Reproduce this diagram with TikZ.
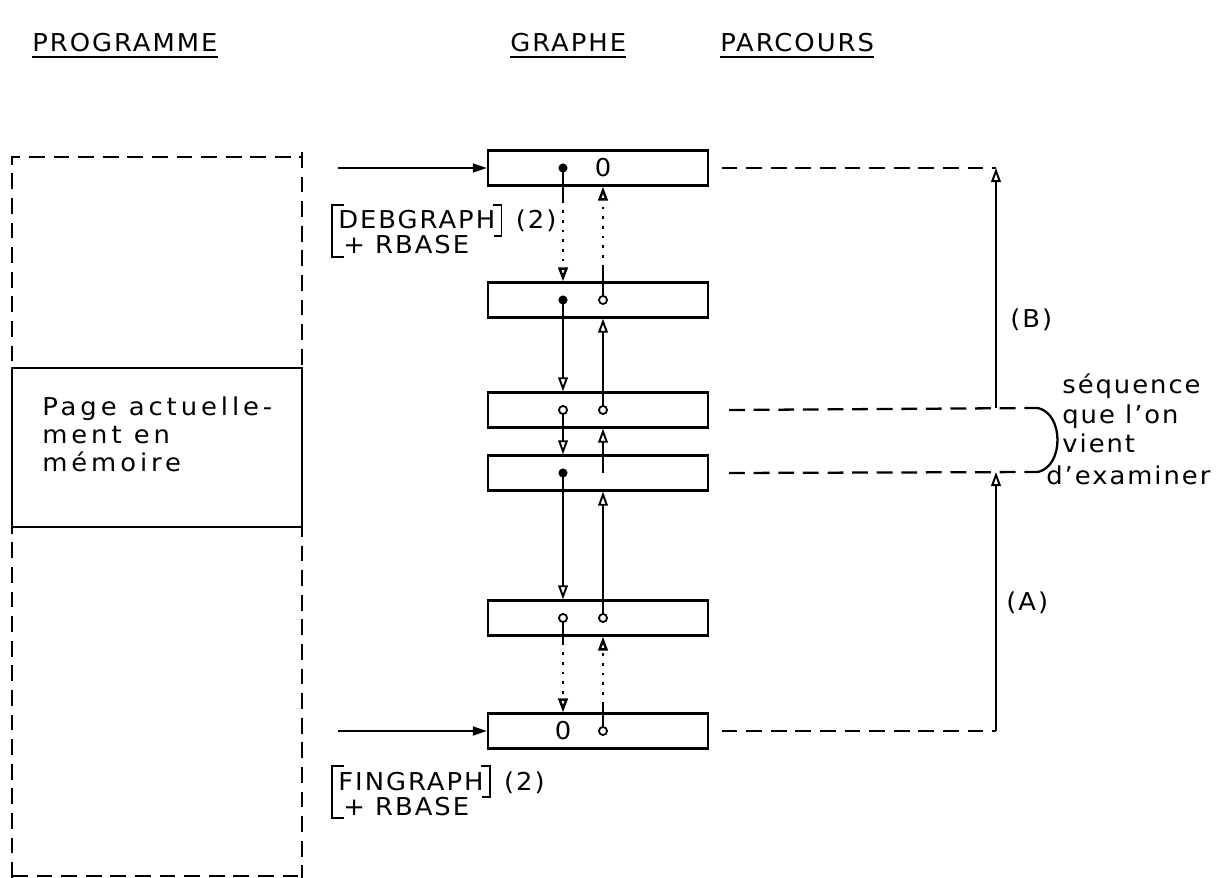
\documentclass[tikz,border=0pt]{standalone}
\usepackage{fontspec}
\setmainfont{DejaVu Sans}[FakeStretch=1.05,LetterSpace=8]
\usetikzlibrary{arrows.meta, positioning, calc}

\tikzset{
  cell/.style={draw, line width=1.3pt, minimum width=4.4cm, minimum height=0.7cm, inner sep=0pt},
  ptr/.style={line width=1.1pt, -{Triangle[open, length=8pt, width=5.5pt]}},
  dotptr/.style={ptr, line width=1.4pt, dash pattern=on 1.5pt off 4pt},
  dashline/.style={line width=1.3pt, dash pattern=on 9pt off 5pt},
  heading/.style={anchor=base west, inner sep=0pt},
  txt/.style={anchor=base west, inner sep=0pt},
  brk/.style={line width=1.1pt},
}

\begin{document}
\begin{tikzpicture}[x=0.02cm, y=-0.02cm, font=\fontsize{14}{17}\selectfont]
  \useasboundingbox (0,0) rectangle (1231,878);

  % En-tetes
  \node[heading] (hprog) at (32,52) {PROGRAMME};
  \node[heading] (hgraph) at (510,52) {GRAPHE};
  \node[heading] (hparc) at (720,52) {PARCOURS};
  \foreach \h in {hprog,hgraph,hparc}
    \draw[line width=1.4pt] ([yshift=-3pt]\h.base west) -- ([yshift=-3pt]\h.base east);

  % Programme
  \draw[dashline] (12,878) -- (12,157) -- (302,157);
  \draw[dashline] (302,152) -- (302,878);
  \draw[dashline] (12,876) -- (302,876);
  \draw[line width=1.3pt, fill=white] (12,368) rectangle (302,527);
  \node[anchor=north west, align=left, inner sep=0pt, font=\fontsize{14}{16}\selectfont\addfontfeature{LetterSpace=16}] (page) at (42,396)
    {Page actuelle-\\ment en\\mémoire};

  % Graphe
  \foreach \i/\y in {1/168,2/300,3/410,4/473,5/618,6/731}{
    \node[cell] (c\i) at (598,\y) {};
    \coordinate (c\i-n) at (563,\y);
    \coordinate (c\i-p) at (603,\y);
  }
  \node at (c1-p) {0};
  \node at (c6-n) {0};

  % pointeurs suivants
  \draw[line width=1.1pt] (c1-n) -- ($(c1.south -| c1-n)+(0,14)$) coordinate (c1-m);
  \draw[dotptr] (c1-m) -- (c1-n |- c2.north);
  \draw[ptr] (c2-n) -- (c2-n |- c3.north);
  \draw[ptr] (c3-n) -- (c3-n |- c4.north);
  \draw[ptr] (c4-n) -- (c4-n |- c5.north);
  \draw[line width=1.1pt] (c5-n) -- ($(c5.south -| c5-n)+(0,6)$) coordinate (c5-m);
  \draw[dotptr] (c5-m) -- (c5-n |- c6.north);

  % pointeurs precedents
  \draw[line width=1.1pt] (c2-p) -- ($(c2.north -| c2-p)+(0,-14)$) coordinate (c2-m);
  \draw[dotptr] (c2-m) -- (c2-p |- c1.south);
  \draw[ptr] (c3-p) -- (c3-p |- c2.south);
  \draw[ptr] (c4-p) -- (c4-p |- c3.south);
  \draw[ptr] (c5-p) -- (c5-p |- c4.south);
  \draw[line width=1.1pt] (c6-p) -- ($(c6.north -| c6-p)+(0,-8)$) coordinate (c6-m);
  \draw[dotptr] (c6-m) -- (c6-p |- c5.south);

  \foreach \i in {1,2,4}
    \fill (c\i-n) circle (2.6pt);
  \foreach \i in {3,5}
    \draw[line width=1pt, fill=white] (c\i-n) circle (2.3pt);
  \foreach \i in {2,3,5,6}
    \draw[line width=1pt, fill=white] (c\i-p) circle (2.3pt);

  % entrees
  \coordinate (in1) at (338,168);
  \coordinate (in6) at (338,731);
  \draw[line width=1.3pt, -{Triangle[length=8pt, width=5pt]}] (in1) -- (c1.west);
  \draw[line width=1.3pt, -{Triangle[length=8pt, width=5pt]}] (in6) -- (c6.west);

  \node[txt] (debg) at (338,229) {DEBGRAPH};
  \node[txt, right=0.4cm of debg.base east, anchor=base west] (debgn) {(2)};
  \node[txt] (debgr) at (343,254) {+ RBASE};
  \draw[brk] ([xshift=0.12cm,yshift=0.1cm]debg.north west) -| ([xshift=-0.22cm,yshift=-0.05cm]debgr.south west) -- ++(12,0);
  \draw[brk] ([xshift=-0.06cm,yshift=0.1cm]debg.north east) -| ([xshift=0.12cm,yshift=-0.12cm]debg.south east) -- ++(-8,0);

  \node[txt] (fing) at (338,790) {FINGRAPH};
  \node[txt, right=0.4cm of fing.base east, anchor=base west] (fingn) {(2)};
  \node[txt] (fingr) at (343,815) {+ RBASE};
  \draw[brk] ([xshift=0.12cm,yshift=0.1cm]fing.north west) -| ([xshift=-0.22cm,yshift=-0.05cm]fingr.south west) -- ++(12,0);
  \draw[brk] ([xshift=-0.06cm,yshift=0.1cm]fing.north east) -| ([xshift=0.12cm,yshift=-0.12cm]fing.south east) -- ++(-8,0);

  % Parcours
  \coordinate (rail) at (996,0);
  \coordinate (bra) at (1038,408);
  \coordinate (brb) at (1038,472);
  \draw[dashline] ([xshift=0.25cm]c1.east) -- (c1.east -| rail);
  \draw[dashline] ([xshift=0.4cm]c3.east) -- (bra);
  \draw[dashline] ([xshift=0.4cm]c4.east) -- (brb);
  \draw[dashline] ([xshift=0.25cm]c6.east) -- (c6.east -| rail);
  \draw[line width=1.3pt] (bra) .. controls (1064,414) and (1064,466) .. (brb);
  \draw[ptr] (bra -| rail) -- (c1.east -| rail);
  \draw[ptr] (c6.east -| rail) -- (brb -| rail);
  \node[txt] (lblb) at (1010,328) {(B)};
  \node[txt] (lbla) at (1006,610) {(A)};

  \node[txt] (seq1) at (1062,394) {séquence};
  \node[txt] (seq2) at (1062,424) {que l'on};
  \node[txt] (seq3) at (1062,453) {vient};
  \node[txt] (seq4) at (1046,484) {d'examiner};
\end{tikzpicture}
\end{document}
